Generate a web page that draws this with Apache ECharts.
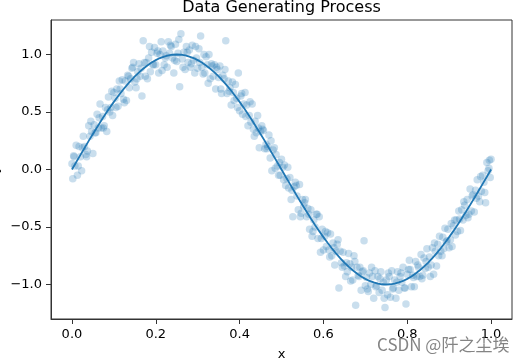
<!DOCTYPE html>
<html>
<head>
<meta charset="utf-8">
<script src="https://cdn.jsdelivr.net/npm/echarts@6/dist/echarts.min.js"></script>
<style>html,body{margin:0;padding:0;background:#fff;}#c{width:529px;height:364px;}</style>
</head>
<body>
<div id="c"></div>
<script>
const points = [
[0.000,0.05],[0.002,-0.08],[0.004,0.12],[0.005,0.11],
[0.007,0.03],[0.010,0.21],[0.013,-0.05],[0.015,0.03],
[0.017,0.20],[0.020,0.11],[0.023,-0.01],[0.025,0.19],
[0.027,0.29],[0.030,0.20],[0.033,0.13],[0.035,0.11],
[0.037,0.16],[0.040,0.38],[0.043,0.29],[0.045,0.42],
[0.047,0.33],[0.050,0.14],[0.053,0.39],[0.055,0.32],
[0.057,0.32],[0.060,0.48],[0.063,0.36],[0.065,0.45],
[0.067,0.57],[0.070,0.36],[0.073,0.46],[0.075,0.36],
[0.077,0.38],[0.080,0.54],[0.083,0.33],[0.085,0.52],
[0.087,0.63],[0.090,0.50],[0.093,0.54],[0.095,0.68],
[0.097,0.47],[0.100,0.67],[0.103,0.62],[0.105,0.54],
[0.107,0.70],[0.110,0.55],[0.113,0.77],[0.115,0.70],
[0.117,0.66],[0.120,0.78],[0.123,0.61],[0.125,0.58],
[0.127,0.77],[0.130,0.60],[0.133,0.82],[0.135,0.81],
[0.137,0.71],[0.140,0.79],[0.143,0.88],[0.145,0.89],
[0.147,0.93],[0.150,0.76],[0.153,0.71],[0.155,0.79],
[0.157,0.85],[0.160,0.92],[0.163,0.81],[0.165,0.88],
[0.167,0.64],[0.170,1.12],[0.173,0.93],[0.175,0.81],
[0.177,0.93],[0.180,0.79],[0.183,0.97],[0.185,1.07],
[0.187,0.85],[0.190,1.02],[0.193,0.91],[0.195,0.91],
[0.197,1.06],[0.200,0.91],[0.203,1.01],[0.205,1.03],
[0.207,0.84],[0.210,1.00],[0.213,1.11],[0.215,0.86],
[0.217,1.03],[0.220,0.91],[0.223,0.97],[0.225,0.99],
[0.227,0.89],[0.230,1.11],[0.233,1.01],[0.235,1.08],
[0.237,1.07],[0.240,0.97],[0.243,0.84],[0.245,0.95],
[0.247,1.09],[0.250,0.94],[0.253,1.01],[0.255,1.13],
[0.257,0.72],[0.260,1.18],[0.263,0.96],[0.265,0.89],
[0.267,1.02],[0.270,0.87],[0.273,1.07],[0.275,1.02],
[0.277,0.93],[0.280,1.04],[0.283,0.89],[0.285,0.92],
[0.287,1.08],[0.290,0.95],[0.293,0.84],[0.295,1.07],
[0.297,0.97],[0.300,0.88],[0.303,1.05],[0.305,0.93],
[0.307,1.16],[0.310,0.89],[0.313,0.83],[0.315,1.00],
[0.317,0.84],[0.320,0.98],[0.323,0.91],[0.325,0.75],
[0.327,1.00],[0.330,0.79],[0.333,0.92],[0.335,0.90],
[0.337,0.81],[0.340,0.91],[0.343,0.70],[0.345,0.89],
[0.347,0.87],[0.350,0.80],[0.353,0.90],[0.355,0.70],
[0.357,0.66],[0.360,0.82],[0.363,0.79],[0.365,0.87],
[0.367,1.12],[0.370,0.66],[0.373,0.77],[0.375,0.68],
[0.377,0.71],[0.380,0.56],[0.383,0.76],[0.385,0.67],
[0.387,0.60],[0.390,0.74],[0.393,0.62],[0.395,0.54],
[0.397,0.84],[0.400,0.51],[0.403,0.64],[0.405,0.66],
[0.407,0.48],[0.410,0.57],[0.413,0.67],[0.415,0.46],
[0.417,0.56],[0.420,0.38],[0.423,0.47],[0.425,0.59],
[0.427,0.41],[0.430,0.57],[0.433,0.35],[0.435,0.29],
[0.437,0.42],[0.440,0.32],[0.443,0.47],[0.445,0.36],
[0.447,0.19],[0.450,0.33],[0.453,0.38],[0.455,0.35],
[0.457,0.34],[0.460,0.18],[0.463,0.22],[0.465,0.18],
[0.467,0.20],[0.470,0.30],[0.473,0.10],[0.475,0.25],
[0.477,-0.01],[0.480,0.17],[0.483,0.19],[0.485,0.01],
[0.487,0.13],[0.490,0.03],[0.493,-0.05],[0.495,0.06],
[0.497,-0.05],[0.500,0.09],[0.503,0.02],[0.505,-0.09],
[0.507,0.04],[0.510,-0.14],[0.513,-0.08],[0.515,0.02],
[0.517,-0.16],[0.520,-0.07],[0.523,-0.26],[0.525,-0.18],
[0.527,-0.41],[0.530,-0.15],[0.533,-0.11],[0.535,-0.14],
[0.537,-0.23],[0.540,-0.35],[0.543,-0.13],[0.545,-0.41],
[0.547,-0.38],[0.550,-0.26],[0.553,-0.32],[0.555,-0.29],
[0.557,-0.26],[0.560,-0.41],[0.563,-0.34],[0.565,-0.39],
[0.567,-0.52],[0.570,-0.35],[0.573,-0.58],[0.575,-0.54],
[0.577,-0.44],[0.580,-0.50],[0.583,-0.39],[0.585,-0.39],
[0.587,-0.60],[0.590,-0.41],[0.593,-0.72],[0.595,-0.60],
[0.597,-0.52],[0.600,-0.70],[0.603,-0.58],[0.605,-0.54],
[0.607,-0.67],[0.610,-0.55],[0.613,-0.70],[0.615,-0.76],
[0.617,-0.56],[0.620,-0.75],[0.623,-0.64],[0.625,-0.68],
[0.627,-0.83],[0.630,-0.71],[0.633,-0.65],[0.635,-0.61],
[0.637,-1.03],[0.640,-0.71],[0.643,-0.81],[0.645,-0.85],
[0.647,-0.72],[0.650,-0.84],[0.653,-0.93],[0.655,-0.81],
[0.657,-0.89],[0.660,-0.73],[0.663,-0.82],[0.665,-0.97],
[0.667,-0.85],[0.670,-0.96],[0.673,-0.75],[0.675,-0.80],
[0.677,-1.18],[0.680,-0.85],[0.683,-0.92],[0.685,-0.93],
[0.687,-0.85],[0.690,-1.05],[0.693,-0.89],[0.695,-0.88],
[0.697,-0.62],[0.700,-1.01],[0.703,-0.94],[0.705,-1.04],
[0.707,-1.06],[0.710,-0.90],[0.713,-1.00],[0.715,-0.85],
[0.717,-0.93],[0.720,-1.12],[0.723,-0.88],[0.725,-1.02],
[0.727,-1.01],[0.730,-0.93],[0.733,-1.07],[0.735,-0.95],
[0.737,-0.89],[0.740,-1.05],[0.743,-0.98],[0.745,-1.12],
[0.747,-1.20],[0.750,-0.96],[0.753,-1.09],[0.755,-0.90],
[0.757,-0.93],[0.760,-1.11],[0.763,-0.88],[0.765,-1.04],
[0.767,-1.03],[0.770,-0.96],[0.773,-1.12],[0.775,-0.98],
[0.777,-0.89],[0.780,-1.05],[0.783,-0.93],[0.785,-0.90],
[0.787,-0.98],[0.790,-0.85],[0.793,-1.03],[0.795,-1.03],
[0.797,-1.17],[0.800,-0.91],[0.803,-0.87],[0.805,-0.79],
[0.807,-0.87],[0.810,-1.02],[0.813,-0.92],[0.815,-0.94],
[0.817,-1.02],[0.820,-0.80],[0.823,-0.93],[0.825,-0.83],
[0.827,-0.85],[0.830,-0.93],[0.833,-0.74],[0.835,-0.95],
[0.837,-0.92],[0.840,-0.77],[0.843,-0.86],[0.845,-0.80],
[0.847,-0.69],[0.850,-0.85],[0.853,-0.76],[0.855,-0.93],
[0.857,-0.83],[0.860,-0.68],[0.863,-0.91],[0.865,-0.64],
[0.867,-0.71],[0.870,-0.84],[0.873,-0.65],[0.875,-0.75],
[0.877,-0.58],[0.880,-0.71],[0.883,-0.75],[0.885,-0.59],
[0.887,-0.69],[0.890,-0.51],[0.893,-0.63],[0.895,-0.62],
[0.897,-0.52],[0.900,-0.68],[0.903,-0.61],[0.905,-0.47],
[0.907,-0.67],[0.910,-0.49],[0.913,-0.44],[0.915,-0.57],
[0.917,-0.44],[0.920,-0.54],[0.923,-0.36],[0.925,-0.43],
[0.927,-0.53],[0.930,-0.35],[0.933,-0.44],[0.935,-0.28],
[0.937,-0.31],[0.940,-0.40],[0.943,-0.26],[0.945,-0.42],
[0.947,-0.39],[0.950,-0.17],[0.953,-0.36],[0.955,-0.23],
[0.957,-0.22],[0.960,-0.37],[0.963,-0.18],[0.965,-0.25],
[0.967,-0.09],[0.970,-0.23],[0.973,-0.28],[0.975,-0.06],
[0.977,-0.19],[0.980,-0.05],[0.983,-0.11],[0.985,-0.20],
[0.987,-0.29],[0.990,0.06],[0.993,-0.01],[0.995,0.01],
[0.996,0.08],[0.998,-0.07],[1.000,0.09]
];
// True function curve, read at 0.01 steps
const curveX = [0,0.01,0.02,0.03,0.04,0.05,0.06,0.07,0.08,0.09,0.1,0.11,0.12,0.13,0.14,0.15,0.16,0.17,0.18,0.19,0.2,0.21,0.22,0.23,0.24,0.25,0.26,0.27,0.28,0.29,0.3,0.31,0.32,0.33,0.34,0.35,0.36,0.37,0.38,0.39,0.4,0.41,0.42,0.43,0.44,0.45,0.46,0.47,0.48,0.49,0.5,0.51,0.52,0.53,0.54,0.55,0.56,0.57,0.58,0.59,0.6,0.61,0.62,0.63,0.64,0.65,0.66,0.67,0.68,0.69,0.7,0.71,0.72,0.73,0.74,0.75,0.76,0.77,0.78,0.79,0.8,0.81,0.82,0.83,0.84,0.85,0.86,0.87,0.88,0.89,0.9,0.91,0.92,0.93,0.94,0.95,0.96,0.97,0.98,0.99,1];
const curveY = [0,0.063,0.125,0.187,0.249,0.309,0.368,0.426,0.482,0.536,0.588,0.637,0.685,0.729,0.771,0.809,0.844,0.876,0.905,0.930,0.951,0.969,0.982,0.992,0.998,1,0.998,0.992,0.982,0.969,0.951,0.930,0.905,0.876,0.844,0.809,0.771,0.729,0.685,0.637,0.588,0.536,0.482,0.426,0.368,0.309,0.249,0.187,0.125,0.063,0,
-0.063,-0.125,-0.187,-0.249,-0.309,-0.368,-0.426,-0.482,-0.536,-0.588,-0.637,-0.685,-0.729,-0.771,-0.809,-0.844,-0.876,-0.905,-0.930,-0.951,-0.969,-0.982,-0.992,-0.998,-1,-0.998,-0.992,-0.982,-0.969,-0.951,-0.930,-0.905,-0.876,-0.844,-0.809,-0.771,-0.729,-0.685,-0.637,-0.588,-0.536,-0.482,-0.426,-0.368,-0.309,-0.249,-0.187,-0.125,-0.063,0];
const xTicks = [0, 0.2, 0.4, 0.6, 0.8, 1.0];
const yTicks = [-1.0, -0.5, 0.0, 0.5, 1.0];
const titleText = 'Data Generating Process';
const watermark = 'CSDN @阡之尘埃';

const FONT = 'DejaVu Sans';
const fmt = v => (v < 0 ? '\u2212' : '') + Math.abs(v).toFixed(1);
const chart = echarts.init(document.getElementById('c'), null, {renderer: 'canvas'});
chart.setOption({
  animation: false,
  title: {
    text: titleText, left: 281.5, top: 0, textAlign: 'center', padding: 0,
    textStyle: {fontFamily: FONT, fontSize: 16, fontWeight: 'normal', color: '#000'}
  },
  grid: {left: 51, top: 20, right: 17, bottom: 45, show: true, borderColor: '#333', borderWidth: 1,
         backgroundColor: '#fff', containLabel: false, outerBoundsMode: 'none'},
  xAxis: {
    type: 'value', min: -0.05, max: 1.05,
    name: 'x', nameLocation: 'middle', nameGap: 29, nameMoveOverlap: false,
    nameTextStyle: {fontFamily: FONT, fontSize: 13, color: '#000'},
    axisLine: {show: true, onZero: false, lineStyle: {color: '#333', width: 1}},
    axisTick: {show: true, length: 5, customValues: xTicks, lineStyle: {color: '#333'}},
    axisLabel: {customValues: xTicks, formatter: fmt, fontFamily: FONT, fontSize: 13, color: '#000', margin: 9},
    splitLine: {show: false}
  },
  yAxis: {
    type: 'value', min: -1.3, max: 1.3,
    name: 'y', nameLocation: 'middle', nameGap: 50, nameRotate: 90, nameMoveOverlap: false,
    nameTextStyle: {fontFamily: FONT, fontSize: 13, color: '#000'},
    axisLine: {show: true, onZero: false, lineStyle: {color: '#333', width: 1}},
    axisTick: {show: true, length: 5, customValues: yTicks, lineStyle: {color: '#333'}},
    axisLabel: {customValues: yTicks, formatter: fmt, fontFamily: FONT, fontSize: 13, color: '#000', margin: 9},
    splitLine: {show: false}
  },
  series: [
    {
      type: 'scatter', data: points, symbolSize: 7.5,
      itemStyle: {color: 'rgba(31,119,180,0.3)'}, z: 2
    },
    {
      type: 'line', data: curveX.map((x, i) => [x, curveY[i]]), showSymbol: false,
      lineStyle: {color: '#1f77b4', width: 1.8}, z: 3
    }
  ],
  graphic: [{
    type: 'text', left: 377, top: 336, z: 100,
    style: {text: watermark, font: '17px "Noto Sans CJK SC", sans-serif', fill: 'rgba(110,110,110,0.85)'}
  }]
});
</script>
</body>
</html>
